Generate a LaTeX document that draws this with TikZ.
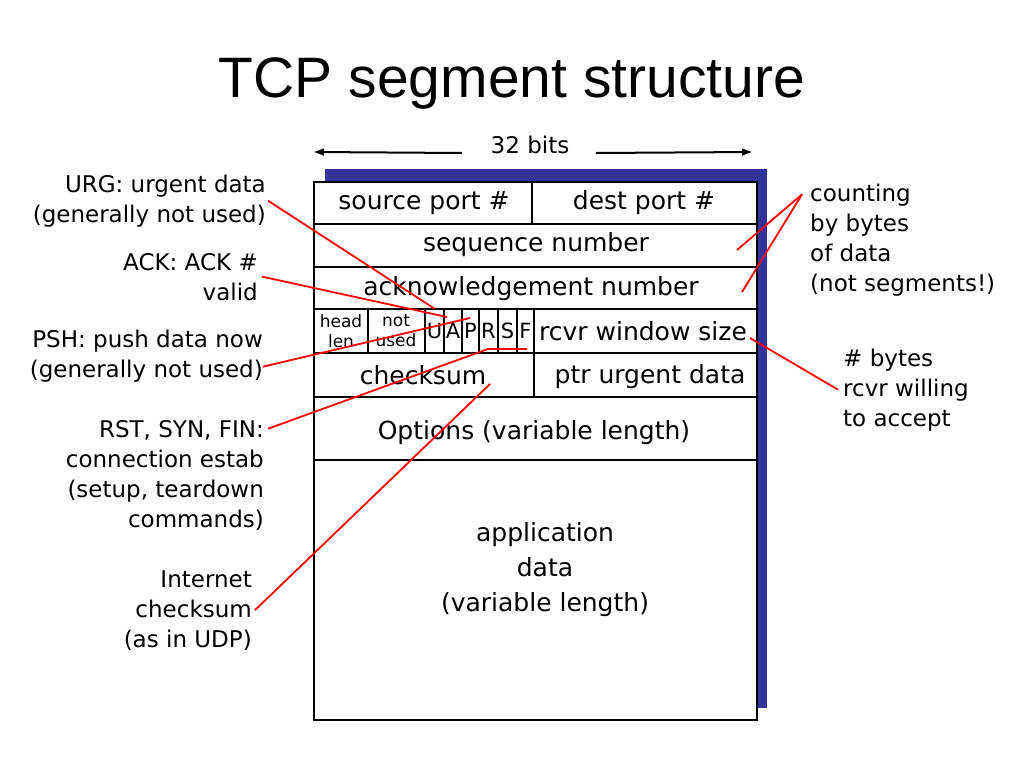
\documentclass[tikz,border=0pt]{standalone}
\usepackage{fontspec}
\setmainfont{DejaVu Sans}
\newfontfamily\titlefont{Liberation Sans}
\usetikzlibrary{arrows.meta}
\definecolor{shadowblue}{RGB}{51,51,153}
\newcommand\Field[3]{
  node[field] (#1) at #2 {#3}
}

\begin{document}
\begin{tikzpicture}[x=1pt,y=-1pt,
  field/.style={font=\fontsize{25}{35}\selectfont,inner sep=0pt,align=center},
  small/.style={font=\fontsize{17}{20}\selectfont,inner sep=0pt,align=center},
  flag/.style={font=\fontsize{21}{20}\selectfont,inner sep=0pt},
  note/.style={font=\fontsize{23}{30}\selectfont,inner sep=0pt},
  tag/.style={draw=red,line width=1.8pt},
  bitarrow/.style={draw,line width=2pt,-{Latex[length=11pt,width=8pt]}}]
\useasboundingbox (0,0) rectangle (1024,768);
\node[font=\titlefont\fontsize{57}{60}\selectfont,anchor=base] (title) at (512,97) {TCP segment structure};
% 32 bits
\node[font=\fontsize{23}{30}\selectfont,anchor=base] (bits) at (530,153) {32 bits};
\coordinate (wl) at (313,152);
\coordinate (wr) at (753,152);
\draw[bitarrow] ([xshift=-25pt]bits.base west) -- (wl);
\draw[bitarrow] ([xshift=23pt]bits.base east) -- (wr);
% segment box
\fill[shadowblue] (325,169) rectangle (767,708);
\draw[line width=2pt,fill=white] (314,182) rectangle (757,720);
\draw[line width=2pt] (314,224) -- (757,224) (314,267) -- (757,267)
  (314,309) -- (757,309) (314,353) -- (757,353) (314,397) -- (757,397)
  (314,460) -- (757,460) (532,182) -- (532,224) (534,309) -- (534,397);
\foreach \x in {368,425,444,462,479,498,517}
  \draw[line width=1.5pt] (\x,309) -- (\x,353);
\path \Field{src}{(424,203)}{source port \#} \Field{dst}{(644,203)}{dest port \#}
  \Field{seq}{(536,245)}{sequence number} \Field{ackn}{(531,289)}{acknowledgement number}
  \Field{win}{(643,331)}{rcvr window size} \Field{sum}{(423,375)}{checksum}
  \Field{urgp}{(650,377)}{ptr urgent data} \Field{opt}{(534,433)}{Options (variable length)}
  \Field{data}{(545,570)}{application\\data\\(variable length)};
\node[small] (hlen) at (341,331) {head\\len};
\node[small] (unused) at (396,331) {not\\used};
\node[flag] (fu) at (434.5,331) {U};
\node[flag] (fa) at (453,331) {A};
\node[flag] (fp) at (470.5,331) {P};
\node[flag] (fr) at (488.5,331) {R};
\node[flag] (fs) at (507.5,331) {S};
\node[flag] (ff) at (525.5,331) {F};
% notes, left
\node[note,align=right,anchor=base east] (urg) at (266,222) {URG: urgent data\\(generally not used)};
\node[note,align=right,anchor=base east] (ack) at (258,300) {ACK: ACK \#\\valid};
\node[note,align=right,anchor=base east] (psh) at (263,377) {PSH: push data now\\(generally not used)};
\node[note,align=right,anchor=base east] (rst) at (264,527) {RST, SYN, FIN:\\connection estab\\(setup, teardown\\commands)};
\node[note,align=right,anchor=base east] (inet) at (252,647) {Internet\\checksum\\(as in UDP)};
% notes, right
\node[note,align=left,anchor=base west] (count) at (810,291) {counting\\by bytes\\of data\\(not segments!)};
\node[note,align=left,anchor=base west] (bytes) at (843,426) {\# bytes\\rcvr willing\\to accept};
% pointers
\coordinate (urgEnd) at (435,309);
\coordinate (ackEnd) at (447,317);
\coordinate (pshEnd) at (470,318);
\coordinate (rstBend) at (488,349);
\coordinate (rstEnd) at (527,349);
\coordinate (sumEnd) at (490,384);
\coordinate (seqEnd) at (737,250);
\coordinate (acknEnd) at (742,292);
\coordinate (winEnd) at (750,338);
\draw[tag] ([xshift=2pt]urg.east) -- (urgEnd);
\draw[tag] ([xshift=4pt]ack.east) -- (ackEnd);
\draw[tag] ([yshift=-11pt]psh.east) -- (pshEnd);
\draw[tag] ([xshift=4pt,yshift=-9pt]rst.north east) -- (rstBend) -- (rstEnd);
\draw[tag] ([xshift=3pt]inet.east) -- (sumEnd);
\draw[tag] ([xshift=-8pt,yshift=-11pt]count.north west) -- (seqEnd);
\draw[tag] ([xshift=-8pt,yshift=-11pt]count.north west) -- (acknEnd);
\draw[tag] ([xshift=-5pt]bytes.west) -- (winEnd);
\end{tikzpicture}
\end{document}
